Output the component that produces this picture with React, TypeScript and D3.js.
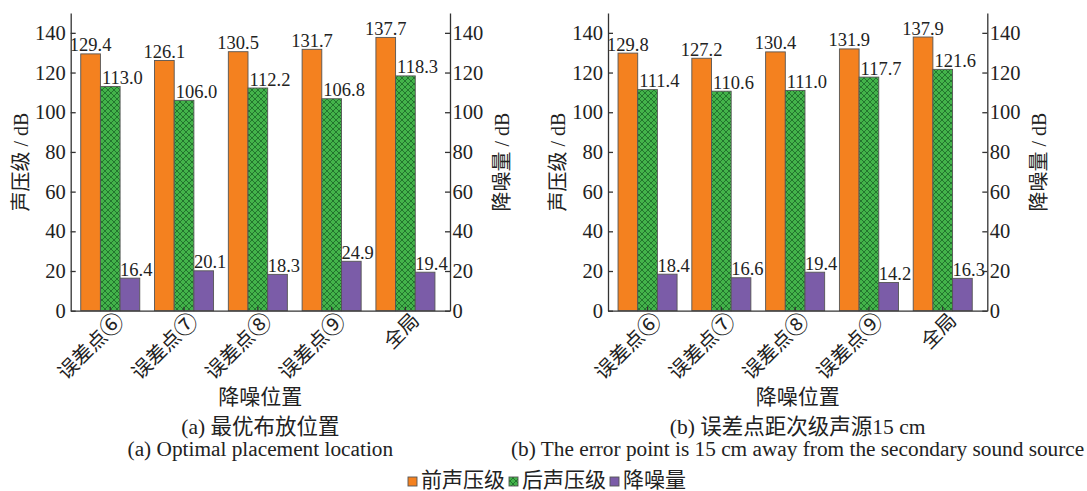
import React, { useRef, useEffect } from 'react'
import * as d3 from 'd3'

const categories = ['误差点⑥', '误差点⑦', '误差点⑧', '误差点⑨', '全局']
const seriesNames = ['前声压级', '后声压级', '降噪量']

const beforeA = [129.4, 126.1, 130.5, 131.7, 137.7]
const afterA = [113.0, 106.0, 112.2, 106.8, 118.3]
const reductionA = [16.4, 20.1, 18.3, 24.9, 19.4]

const beforeB = [129.8, 127.2, 130.4, 131.9, 137.9]
const afterB = [111.4, 110.6, 111.0, 117.7, 121.6]
const reductionB = [18.4, 16.6, 19.4, 14.2, 16.3]

const yTicks = [0, 20, 40, 60, 80, 100, 120, 140]

const captionsCn = ['(a) 最优布放位置', '(b) 误差点距次级声源15 cm']
const captionsEn = ['(a) Optimal placement location', '(b) The error point is 15 cm away from the secondary sound source']

const FONT = '"Liberation Serif", "Noto Sans CJK SC", serif'
const CJK = '"Noto Sans CJK SC", sans-serif'
const ORANGE = '#f4811f'
const GREEN = '#43b34a'
const PURPLE = '#7b5ca8'
const AXIS = '#333'

export default function App() {
  const ref = useRef<SVGSVGElement | null>(null)

  useEffect(() => {
    const el = ref.current
    if (!el) return
    const svg = d3.select(el)
    svg.selectAll('*').remove()

    const defs = svg.append('defs')
    const pat = defs.append('pattern')
      .attr('id', 'hatch').attr('patternUnits', 'userSpaceOnUse')
      .attr('width', 6).attr('height', 6)
    pat.append('rect').attr('width', 6).attr('height', 6).attr('fill', GREEN)
    pat.append('path').attr('d', 'M0,0 L6,6 M6,0 L0,6 M-1,5 L1,7 M5,-1 L7,1 M-1,1 L1,-1 M5,7 L7,5')
      .attr('stroke', '#1f6e2a').attr('stroke-width', 0.9)

    const panels = [
      { left: 70.7, before: beforeA, after: afterA, reduction: reductionA },
      { left: 608, before: beforeB, after: afterB, reduction: reductionB },
    ]
    const plotW = 379.3
    const top = 13
    const bottom = 310.7

    panels.forEach((p, pi) => {
      const g = svg.append('g')
      const x = d3.scaleBand<string>().domain(categories)
        .range([p.left, p.left + plotW]).paddingInner(0.2).paddingOuter(0.17).align(0.4)
      const xs = d3.scaleBand<string>().domain(['b', 'a', 'r']).range([0, x.bandwidth()])
      const y = d3.scaleLinear().domain([0, 150]).range([bottom, top])
      const yR = d3.scaleLinear().domain([0, 150]).range([bottom, top])

      const rows = categories.map((c, i) => ({ c, b: p.before[i], a: p.after[i], r: p.reduction[i] }))

      const bar = (key: 'b' | 'a' | 'r', fill: string, scale: d3.ScaleLinear<number, number>) => {
        g.selectAll(null).data(rows).enter().append('rect')
          .attr('x', d => (x(d.c) as number) + (xs(key) as number))
          .attr('y', d => scale(d[key]))
          .attr('width', xs.bandwidth())
          .attr('height', d => bottom - scale(d[key]))
          .attr('fill', fill).attr('stroke', '#555').attr('stroke-width', 0.9)
      }
      bar('b', ORANGE, y)
      bar('a', 'url(#hatch)', y)
      bar('r', PURPLE, yR)

      const label = (key: 'b' | 'a' | 'r', scale: d3.ScaleLinear<number, number>, dx: number, anchor: string) => {
        g.selectAll(null).data(rows).enter().append('text')
          .attr('x', d => (x(d.c) as number) + (xs(key) as number) + dx)
          .attr('y', d => scale(d[key]) - 2.5)
          .attr('text-anchor', anchor)
          .attr('font-family', FONT).attr('font-size', 18.5).attr('fill', '#222')
          .text(d => d[key].toFixed(1))
      }
      label('b', y, xs.bandwidth() / 2, 'middle')
      label('a', y, 1.5, 'start')
      label('r', yR, 0, 'start')

      // axes
      const styleAxis = (sel: d3.Selection<SVGGElement, unknown, null, undefined>) => {
        sel.attr('font-family', FONT)
        sel.selectAll('path, line').attr('stroke', AXIS).attr('stroke-width', 1.3)
        sel.selectAll('text').attr('fill', '#222').attr('font-size', 20.5).attr('font-family', FONT)
      }
      const gl = g.append('g').attr('transform', `translate(${p.left},0)`)
        .call(d3.axisLeft(y).tickValues(yTicks).tickSizeInner(-5).tickSizeOuter(0).tickPadding(5))
      styleAxis(gl)
      const gr = g.append('g').attr('transform', `translate(${p.left + plotW},0)`)
        .call(d3.axisRight(yR).tickValues(yTicks).tickSizeInner(-5).tickSizeOuter(0).tickPadding(2.5))
      styleAxis(gr)
      const gb = g.append('g').attr('transform', `translate(0,${bottom})`)
        .call(d3.axisBottom(x).tickSizeInner(-4).tickSizeOuter(0))
      styleAxis(gb)
      gb.selectAll<SVGTextElement, string>('text')
        .attr('x', 0).attr('y', 0).attr('dy', 0)
        .attr('font-family', CJK).attr('font-size', 20)
        .attr('text-anchor', 'end')
        .attr('transform', 'translate(15,11) rotate(-45)')
        .each(function (d) {
          const t = d3.select(this)
          t.text(null)
          const m = d.match(/^(.*?)([\u2460-\u2473]?)$/) as RegExpMatchArray
          t.append('tspan').text(m[1])
          if (m[2]) t.append('tspan').attr('font-size', 23.5).attr('dy', 1).text(m[2])
        })

      // axis titles
      const cx = p.left + plotW / 2
      const title = (t: string, tx: string, size: number, x0?: number, y0?: number) =>
        g.append('text').attr('transform', tx)
          .attr('x', x0 ?? 0).attr('y', y0 ?? 0)
          .attr('text-anchor', 'middle').attr('font-family', FONT)
          .attr('font-size', size).attr('fill', '#222').text(t)
      title('声压级 / dB', `translate(${p.left - 43},162) rotate(-90)`, 20)
      title('降噪量 / dB', `translate(${p.left + plotW + 59},162) rotate(-90)`, 20)
      title('降噪位置', '', 21, cx, 404)
      title(captionsCn[pi], '', 21.5, cx, 434)
      title(captionsEn[pi], '', 21.3, cx, 456)
    })

    // legend
    const fills = [ORANGE, 'url(#hatch)', PURPLE]
    const lg = svg.append('g')
    let lx = 0
    seriesNames.forEach((name, i) => {
      lg.append('rect').attr('x', lx).attr('y', -10).attr('width', 9).attr('height', 9)
        .attr('fill', fills[i]).attr('stroke', '#555').attr('stroke-width', 0.9)
      const t = lg.append('text').attr('x', lx + 13).attr('y', 0)
        .attr('font-family', FONT).attr('font-size', 21).attr('fill', '#222').text(name)
      const w = (t.node() as SVGTextElement).getComputedTextLength()
      lx += 13 + w + 4
    })
    const total = lx - 4
    lg.attr('transform', `translate(${547 - total / 2},487)`)
  }, [])

  return (
    <svg ref={ref} width={1087} height={491}
      style={{ position: 'absolute', left: 0, top: 0, background: '#fff' }} />
  )
}
